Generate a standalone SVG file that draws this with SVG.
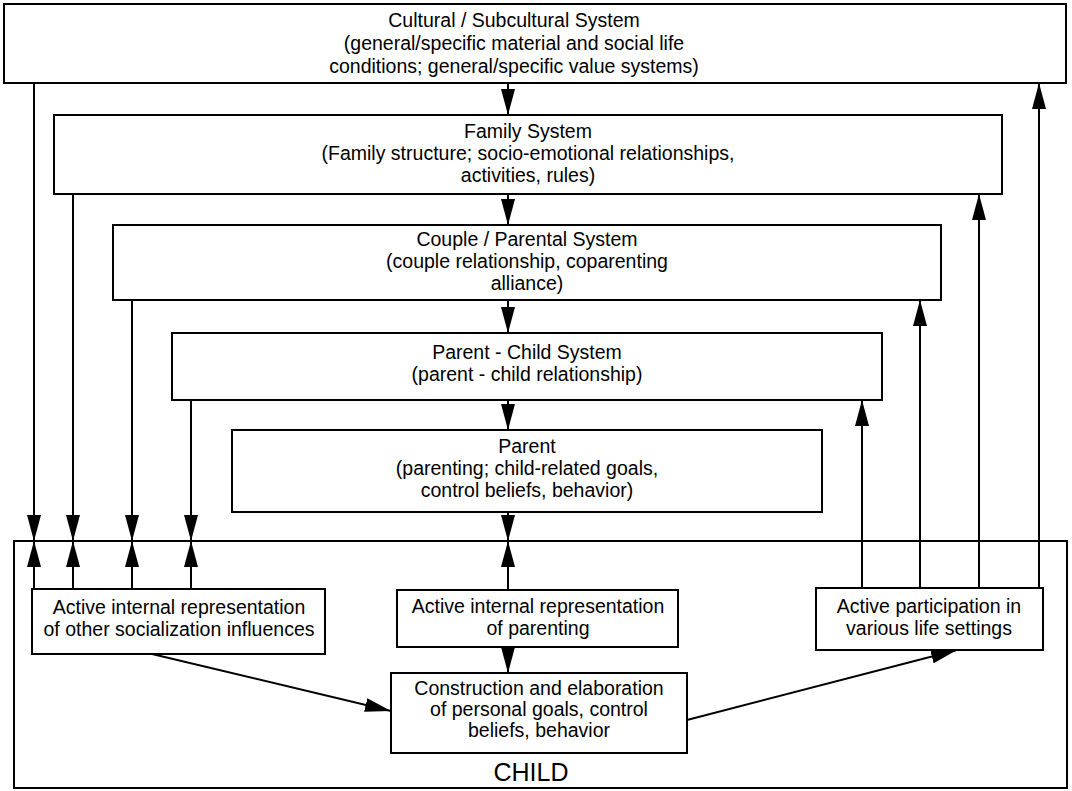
<svg xmlns="http://www.w3.org/2000/svg" width="1072" height="791" viewBox="0 0 1072 791">
  <style>
    .box { fill: #fff; stroke: #000; stroke-width: 2; }
    .frame { fill: none; stroke: #000; stroke-width: 2; }
    .lbl { font-family: "Liberation Sans", Arial, sans-serif; font-size: 19.5px; fill: #000; text-anchor: middle; }
    .big { font-size: 25px; }
    .edge { fill: none; stroke: #000; stroke-width: 2; marker-end: url(#head); }
  </style>
  <defs>
    <marker id="head" viewBox="0 0 26 14" refX="26" refY="7" markerWidth="26" markerHeight="14" markerUnits="userSpaceOnUse" orient="auto">
      <path d="M0,0 L26,7 L0,14 Z" fill="#000"/>
    </marker>
  </defs>

  <rect width="1072" height="791" fill="#fff"/>

  <!-- outer CHILD frame -->
  <g id="child">
    <rect class="frame" x="14" y="541" width="1053" height="247"/>
    <text class="lbl big" x="531" y="781">CHILD</text>
  </g>

  <g id="cultural">
    <rect class="box" x="4" y="4" width="1062" height="79"/>
    <text class="lbl" x="514" y="27">Cultural / Subcultural System</text>
    <text class="lbl" x="514" y="50">(general/specific material and social life</text>
    <text class="lbl" x="514" y="73">conditions; general/specific value systems)</text>
  </g>

  <g id="family">
    <rect class="box" x="54" y="115" width="948" height="79"/>
    <text class="lbl" x="528" y="138">Family System</text>
    <text class="lbl" x="528" y="160">(Family structure; socio-emotional relationships,</text>
    <text class="lbl" x="528" y="182">activities, rules)</text>
  </g>

  <g id="couple">
    <rect class="box" x="113" y="225" width="828" height="75"/>
    <text class="lbl" x="527" y="246">Couple / Parental System</text>
    <text class="lbl" x="527" y="268">(couple relationship, coparenting</text>
    <text class="lbl" x="527" y="290">alliance)</text>
  </g>

  <g id="parent-child">
    <rect class="box" x="172" y="333" width="710" height="67"/>
    <text class="lbl" x="527" y="359">Parent - Child System</text>
    <text class="lbl" x="527" y="381">(parent - child relationship)</text>
  </g>

  <g id="parent">
    <rect class="box" x="232" y="430" width="590" height="82"/>
    <text class="lbl" x="527" y="453">Parent</text>
    <text class="lbl" x="527" y="475">(parenting; child-related goals,</text>
    <text class="lbl" x="527" y="497">control beliefs, behavior)</text>
  </g>

  <g id="rep-other">
    <rect class="box" x="32" y="589" width="293" height="65"/>
    <text class="lbl" x="179" y="614">Active internal representation</text>
    <text class="lbl" x="179" y="636">of other socialization influences</text>
  </g>

  <g id="rep-parenting">
    <rect class="box" x="397" y="590" width="281" height="57"/>
    <text class="lbl" x="538" y="613">Active internal representation</text>
    <text class="lbl" x="538" y="635">of parenting</text>
  </g>

  <g id="participation">
    <rect class="box" x="816" y="588" width="227" height="62"/>
    <text class="lbl" x="929" y="613">Active participation in</text>
    <text class="lbl" x="929" y="635">various life settings</text>
  </g>

  <g id="construction">
    <rect class="box" x="391" y="673" width="296" height="80"/>
    <text class="lbl" x="539" y="695">Construction and elaboration</text>
    <text class="lbl" x="539" y="716">of personal goals, control</text>
    <text class="lbl" x="539" y="737">beliefs, behavior</text>
  </g>

  <g id="connectors">
    <!-- central cascade -->
    <line class="edge" x1="508" y1="83" x2="508" y2="115"/>
    <line class="edge" x1="508" y1="194" x2="508" y2="225"/>
    <line class="edge" x1="508" y1="300" x2="508" y2="333"/>
    <line class="edge" x1="508" y1="400" x2="508" y2="430"/>
    <line class="edge" x1="508" y1="512" x2="508" y2="541"/>
    <line class="edge" x1="508" y1="590" x2="508" y2="541"/>
    <line class="edge" x1="508" y1="647" x2="508" y2="673"/>

    <!-- left side: systems down to child, representation up to child -->
    <line class="edge" x1="34" y1="83" x2="34" y2="541"/>
    <line class="edge" x1="73" y1="194" x2="73" y2="541"/>
    <line class="edge" x1="132" y1="300" x2="132" y2="541"/>
    <line class="edge" x1="191" y1="400" x2="191" y2="541"/>
    <line class="edge" x1="34" y1="589" x2="34" y2="541"/>
    <line class="edge" x1="73" y1="589" x2="73" y2="541"/>
    <line class="edge" x1="132" y1="589" x2="132" y2="541"/>
    <line class="edge" x1="191" y1="589" x2="191" y2="541"/>

    <!-- right side: participation feeding back up -->
    <line class="edge" x1="862" y1="588" x2="862" y2="400"/>
    <line class="edge" x1="920" y1="588" x2="920" y2="300"/>
    <line class="edge" x1="979" y1="588" x2="979" y2="194"/>
    <line class="edge" x1="1039" y1="588" x2="1039" y2="83"/>

    <!-- diagonals inside child -->
    <line class="edge" x1="152" y1="654" x2="391" y2="711"/>
    <line class="edge" x1="687" y1="720" x2="957" y2="650"/>
  </g>
</svg>
